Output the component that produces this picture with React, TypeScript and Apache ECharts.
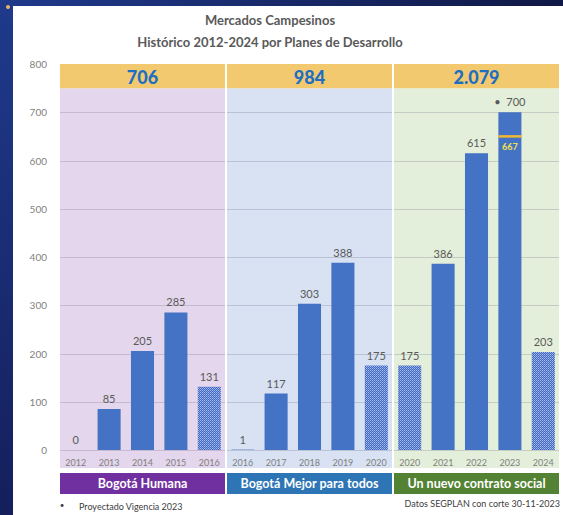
import React, { useEffect, useRef } from "react";
import * as echarts from "echarts";

const YEAR_LABELS = ["2012", "2013", "2014", "2015", "2016", "2016", "2017", "2018", "2019", "2020", "2020", "2021", "2022", "2023", "2024"];
const CATEGORY_KEYS = YEAR_LABELS.map((y, i) => `${y}-${i}`);
const VALUES = [0, 85, 205, 285, 131, 1, 117, 303, 388, 175, 175, 386, 615, 700, 203];
const HATCHED = [false, false, false, false, true, true, false, false, false, true, true, false, false, false, true];
const PLAN_NAMES = ["Bogotá Humana", "Bogotá Mejor para todos", "Un nuevo contrato social"];
const PLAN_TOTALS = ["706", "984", "2.079"];
const PLAN_RANGES = [[0, 4], [5, 9], [10, 14]];
const PLAN_BG = ["#E4D6EC", "#D8E2F3", "#E3EFDB"];
const PLAN_BANNER = ["#7030A0", "#2E75B6", "#548235"];
const MARKER_INDEX = 13;
const MARKER_LABEL = 667;
const MARKER_DRAWN_AT = 650;
const Y_TICKS = [100, 200, 300, 400, 500, 600, 700];

const FONT = "Lato, 'Open Sans', sans-serif";

export default function App() {
  const ref = useRef<HTMLDivElement>(null);
  useEffect(() => {
    document.body.style.margin = "0";
    const chart = echarts.init(ref.current!, undefined, { renderer: "svg" });

    const cv = document.createElement("canvas");
    cv.width = 4;
    cv.height = 4;
    const ctx = cv.getContext("2d")!;
    ctx.fillStyle = "#4169C6";
    ctx.fillRect(0, 0, 4, 4);
    ctx.fillStyle = "#A9BCE8";
    for (let x = 0; x < 4; x++) for (let y = 0; y < 4; y++) if (x % 2 === 0 && y % 2 === 0) ctx.fillRect(x, y, 1, 1);
    ctx.fillStyle = "#86A0DC";
    for (let x = 0; x < 4; x++) for (let y = 0; y < 4; y++) if (x % 2 === 1 && y % 2 === 1) ctx.fillRect(x, y, 1, 1);
    const hatch = { image: cv, repeat: "repeat" };

    const barData = VALUES.map((v, i) => ({
      value: v,
      itemStyle: { color: HATCHED[i] ? (hatch as any) : "#4472C4" },
    }));

    const option: any = {
      animation: false,
      textStyle: { fontFamily: FONT },
      grid: { left: 59, right: 3, top: 64, bottom: 65 },
      xAxis: {
        type: "category",
        data: CATEGORY_KEYS,
        axisLine: { show: false },
        axisTick: { show: false },
        axisLabel: {
          formatter: (_v: string, i: number) => YEAR_LABELS[i],
          fontSize: 9,
          color: "#7F7F7F",
          margin: 8,
          interval: 0,
          fontFamily: FONT,
        },
      },
      yAxis: {
        type: "value",
        min: 0,
        max: 800,
        interval: 100,
        splitLine: { show: false },
        axisLine: { show: false },
        axisTick: { show: false },
        axisLabel: { fontSize: 10, color: "#7F7F7F", margin: 12, fontFamily: FONT },
      },
      series: [
        {
          type: "custom",
          z: 0,
          clip: false,
          silent: true,
          data: PLAN_RANGES.map((r, i) => [r[0], r[1], i]),
          renderItem: (params: any, api: any) => {
            const s = api.value(0);
            const e = api.value(1);
            const r = api.value(2);
            const bw = api.size([1, 0])[0];
            const x0 = api.coord([s, 0])[0] - bw / 2 + 1;
            const x1 = api.coord([e, 0])[0] + bw / 2 - 1;
            const yBase = api.coord([s, 0])[1];
            const yBan = api.coord([s, 750])[1];
            const yTop = api.coord([s, 800])[1];
            const children: any[] = [
              { type: "rect", shape: { x: x0, y: yBan, width: x1 - x0, height: yBase + 18 - yBan }, style: { fill: PLAN_BG[r] } },
              { type: "rect", shape: { x: x0, y: yTop, width: x1 - x0, height: yBan - yTop }, style: { fill: "#F3C96F" } },
              {
                type: "text",
                style: {
                  text: PLAN_TOTALS[r],
                  x: (x0 + x1) / 2,
                  y: (yTop + yBan) / 2 + 1,
                  align: "center",
                  verticalAlign: "middle",
                  fill: "#1E6FC2",
                  font: `900 18px ${FONT}`,
                },
              },
              { type: "rect", shape: { x: x0, y: yBase + 23, width: x1 - x0, height: 21 }, style: { fill: PLAN_BANNER[r] } },
              {
                type: "text",
                style: {
                  text: PLAN_NAMES[r],
                  x: (x0 + x1) / 2,
                  y: yBase + 33.5,
                  align: "center",
                  verticalAlign: "middle",
                  fill: "#FFFFFF",
                  font: `bold 12.5px ${FONT}`,
                },
              },
            ];
            [0, ...Y_TICKS].forEach((t) => {
              const y = Math.round(api.coord([s, t])[1]) + 0.5;
              children.push({
                type: "line",
                shape: { x1: x0, y1: y, x2: x1, y2: y },
                style: { stroke: "rgba(90,80,110,0.22)", lineWidth: 1 },
              });
            });
            return { type: "group", children };
          },
        },
        {
          type: "bar",
          z: 2,
          barWidth: "69%",
          data: barData,
          label: {
            show: true,
            position: "top",
            distance: 5,
            fontSize: 11,
            color: "#595959",
            fontFamily: FONT,
            formatter: (p: any) => (p.dataIndex === MARKER_INDEX ? `•  ${p.value}` : `${p.value}`),
          },
        },
        {
          type: "custom",
          z: 5,
          clip: false,
          silent: true,
          data: [[MARKER_INDEX, MARKER_DRAWN_AT, MARKER_LABEL]],
          renderItem: (params: any, api: any) => {
            const bw = api.size([1, 0])[0] * 0.69;
            const p = api.coord([api.value(0), api.value(1)]);
            return {
              type: "group",
              children: [
                {
                  type: "line",
                  shape: { x1: p[0] - bw / 2, y1: p[1], x2: p[0] + bw / 2, y2: p[1] },
                  style: { stroke: "#F2B830", lineWidth: 2.5 },
                },
                {
                  type: "text",
                  style: {
                    text: String(api.value(2)),
                    x: p[0],
                    y: p[1] + 10,
                    align: "center",
                    verticalAlign: "middle",
                    fill: "#F4E24A",
                    font: `bold 9px ${FONT}`,
                  },
                },
              ],
            };
          },
        },
      ],
      graphic: [
        {
          type: "rect",
          left: 0,
          top: 0,
          shape: { width: 13, height: 515 },
          style: {
            fill: new echarts.graphic.LinearGradient(0, 0, 0, 1, [
              { offset: 0, color: "#1F3A8C" },
              { offset: 1, color: "#141F5C" },
            ]),
          },
        },
        {
          type: "rect",
          left: 0,
          top: 0,
          shape: { width: 563, height: 6 },
          style: {
            fill: new echarts.graphic.LinearGradient(0, 0, 1, 0, [
              { offset: 0, color: "#1F3A8C" },
              { offset: 1, color: "#101845" },
            ]),
          },
        },
        { type: "circle", shape: { cx: 8, cy: 7, r: 2 }, style: { fill: "#E8B46A" } },
        {
          type: "text",
          x: 270,
          y: 20,
          style: {
            text: "Mercados Campesinos",
            align: "center",
            verticalAlign: "middle",
            fill: "#595959",
            font: `bold 13px ${FONT}`,
          },
        },
        {
          type: "text",
          x: 270,
          y: 42,
          style: {
            text: "Histórico 2012-2024 por Planes de Desarrollo",
            align: "center",
            verticalAlign: "middle",
            fill: "#595959",
            font: `bold 13px ${FONT}`,
          },
        },
        {
          type: "text",
          x: 62,
          y: 505,
          style: { text: "•", align: "center", verticalAlign: "middle", fill: "#404040", font: `8px ${FONT}` },
        },
        {
          type: "text",
          x: 79,
          y: 506,
          style: { text: "Proyectado Vigencia 2023", align: "left", verticalAlign: "middle", fill: "#404040", font: `9px ${FONT}` },
        },
        {
          type: "text",
          x: 560,
          y: 503,
          style: { text: "Datos SEGPLAN con corte 30-11-2023", align: "right", verticalAlign: "middle", fill: "#404040", font: `9px ${FONT}` },
        },
      ],
    };
    chart.setOption(option);
    return () => chart.dispose();
  }, []);
  return <div ref={ref} style={{ width: 563, height: 515, background: "#FFFFFF" }} />;
}
